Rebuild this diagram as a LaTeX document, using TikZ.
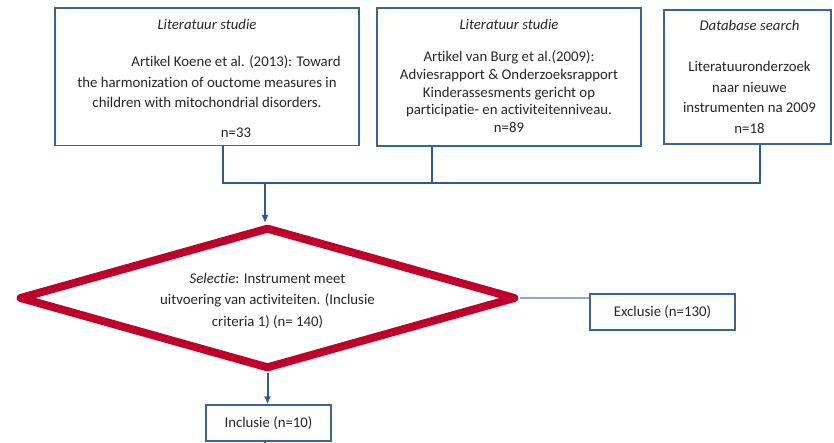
\documentclass[tikz,border=0pt]{standalone}
\usepackage{fontspec}
\setmainfont{Carlito}[Ligatures=NoCommon]
\usetikzlibrary{shapes.geometric,arrows.meta}
\definecolor{boxblue}{HTML}{3B6496}
\definecolor{linkblue}{HTML}{2F5A8C}
\definecolor{paleblue}{HTML}{8FAAC6}
\definecolor{selred}{HTML}{C0002A}
\definecolor{ink}{HTML}{262626}
\begin{document}
\begin{tikzpicture}[x=1pt,y=-1pt,
  every node/.style={font=\fontsize{14.8}{20.6}\selectfont, text=ink},
  srcbox/.style={draw=boxblue, line width=1.3pt, rectangle, inner sep=0pt},
  boxtext/.style={anchor=north, inner sep=0pt, align=center},
  link/.style={draw=linkblue, line width=2pt},
  linkarrow/.style={link, -{Latex[length=8pt,width=7pt]}},
  exlink/.style={draw=paleblue, line width=2pt},
  seldiamond/.style={diamond, draw=selred, line width=8pt, line join=round,
    minimum width=497pt, minimum height=142pt, aspect=3.5, inner sep=0pt,
    align=center, font=\fontsize{14.8}{21.5}\selectfont}]
\useasboundingbox (0,0) rectangle (834,443);

% source boxes
\node[srcbox, minimum width=304pt, minimum height=137.5pt] (b1) at (207,76.75) {};
\node[srcbox, minimum width=264pt, minimum height=138pt] (b2) at (509,77) {};
\node[srcbox, minimum width=167pt, minimum height=134pt] (b3) at (747.5,77) {};

\node[boxtext] (b1txt) at ([yshift=-10pt]b1.north)
  {\rule{0pt}{12pt}\textit{Literatuur studie}\\[16.5pt]
   \hspace*{58pt}Artikel Koene et al. (2013): Toward\\
   the harmonization of ouctome measures in\\
   children with mitochondrial disorders.\\[9.5pt]
   \hspace*{58pt}n=33};
\node[boxtext, font=\fontsize{14.8}{17.8}\selectfont] (b2txt) at ([yshift=-10pt]b2.north)
  {\rule{0pt}{12pt}\textit{Literatuur studie}\\[14.2pt]
   Artikel van Burg et al.(2009):\\
   Adviesrapport \& Onderzoeksrapport\\
   Kinderassesments gericht op\\
   participatie- en activiteitenniveau.\\
   n=89};
\node[boxtext, font=\fontsize{14.8}{20.7}\selectfont] (b3txt) at ([xshift=2pt,yshift=-9pt]b3.north)
  {\rule{0pt}{12pt}\textit{Database search}\\[20.3pt]
   Literatuuronderzoek\\
   naar nieuwe\\
   instrumenten na 2009\\
   n=18};

% bus collecting the three sources
\coordinate (bus1) at (223,183);
\coordinate (bus2) at (432,183);
\coordinate (bus3) at (760,183);
\coordinate (busdrop) at (265,183);
\draw[link] (b1.south -| bus1) -- (bus1) -- (bus3) -- (b3.south -| bus3);
\draw[link] (b2.south -| bus2) -- (bus2);

% selection step
\node[seldiamond] (sel) at (267.5,298)
  {\rule{0pt}{16pt}\textit{Selectie}: Instrument meet\\
   uitvoering van activiteiten. (Inclusie\\
   criteria 1) (n= 140)};
\draw[linkarrow] (busdrop) -- (busdrop |- sel.north);

% outcomes
\node[srcbox, minimum width=145pt, minimum height=36pt] (excl) at (662.5,312) {Exclusie (n=130)};
\node[srcbox, minimum width=125pt, minimum height=36pt] (incl) at (268.5,423) {Inclusie (n=10)};
\draw[exlink] (sel.east) -- (sel.east -| excl.west);
\draw[linkarrow] (sel.south) -- (sel.south |- incl.north);
\coordinate (stub) at (265,445);
\draw[link] (incl.south -| stub) -- (stub);
\end{tikzpicture}
\end{document}
